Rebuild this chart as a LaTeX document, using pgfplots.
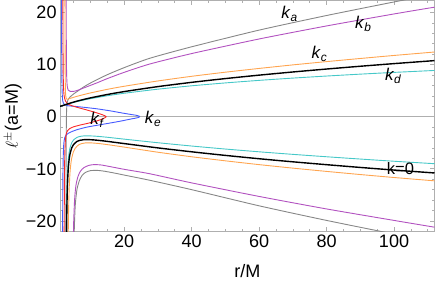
\documentclass[border=0pt]{standalone}
\usepackage{fontspec}
\setmainfont{Liberation Sans}
\usepackage{pgfplots}
\pgfplotsset{compat=1.18}
\definecolor{framec}{RGB}{175,175,175}
\definecolor{cgray}{RGB}{135,135,135}
\definecolor{cpurple}{RGB}{178,82,192}
\definecolor{corange}{RGB}{255,165,80}
\definecolor{ccyan}{RGB}{70,200,200}
\definecolor{cblue}{RGB}{70,90,255}
\definecolor{cred}{RGB}{250,40,40}
\newcommand{\lab}[2]{\textit{#1}\textsubscript{\textit{#2}}}
\begin{document}
\begin{tikzpicture}
\begin{axis}[
  name=ax,
  scale only axis, width=374bp, height=230.7bp,
  xmin=1, xmax=112, ymin=-22, ymax=22.3,
  axis line style={framec, line width=0.7bp},
  tick style={framec, line width=0.6bp},
  major tick length=4.5bp, minor tick length=2.6bp,
  /pgf/number format/assume math mode=true,
  xtick={20,40,60,80,100},
  xticklabels={20,40,60,80,100},
  ytick={-20,-10,0,10,20},
  yticklabels={−20,−10,0,10,20},
  minor xtick={5,10,15,25,30,35,45,50,55,65,70,75,85,90,95,105,110},
  minor ytick={-18,-16,-14,-12,-8,-6,-4,-2,2,4,6,8,12,14,16,18},
  extra y ticks={0}, extra y tick labels={},
  extra y tick style={grid=major, major grid style={framec, line width=0.7bp}, major tick length=0pt},
  tick label style={font=\fontsize{18bp}{20bp}\selectfont, text=black},
  xlabel={r/M},
  ylabel={$\ell^{\pm}$(a=M)},
  xlabel style={font=\fontsize{18bp}{20bp}\selectfont, at={(axis description cs:0.5,-0.199)}, anchor=base},
  ylabel style={font=\fontsize{18bp}{20bp}\selectfont, at={(axis description cs:-0.1257,0.5)}, anchor=center},
  every axis plot/.append style={line width=0.9bp, line join=round},
  clip=true,
]
% k_a (gray)
\addplot[cgray, smooth, tension=0.4] coordinates {(2.70,-40)(2.73,-22)(2.76,-12)(2.80,-6)(2.85,-2)(2.90,0.5)(3.00,2.0)(3.15,2.8)(3.40,3.3)(4,3.8)(5,4.35)(6,4.8)(8,5.7)(10,6.45)(12,7.1)(15,8.05)(20,9.4)(27.6,11.2)(40,13.4)(60,16.6)(80,19.4)(100,22.0)(112,23.5)};
\addplot[cgray, smooth, tension=0.4] coordinates {(4.95,-40)(5.05,-28)(5.2,-22)(5.5,-17)(6,-14)(6.7,-12.3)(7.5,-11.3)(8.5,-10.7)(10,-10.35)(12,-10.3)(14,-10.45)(17,-10.8)(20,-11.2)(27.6,-12.2)(40,-14.0)(60,-17.1)(80,-19.9)(100,-22.5)(112,-23.8)};
% k_b (purple)
\addplot[cpurple, smooth, tension=0.4] coordinates {(2.78,40)(2.82,20)(2.87,12)(2.95,8)(3.1,6)(3.4,5.1)(4,4.85)(5,4.85)(6,5.0)(8,5.5)(10,6.0)(12,6.5)(15,7.3)(20,8.5)(27.6,10.1)(40,12.1)(60,14.9)(80,17.4)(100,19.7)(112,21.0)};
\addplot[cpurple, smooth, tension=0.4] coordinates {(4.75,-40)(4.85,-28)(5.0,-21)(5.3,-16)(5.7,-13.2)(6.3,-11.5)(7,-10.5)(8,-9.8)(9.5,-9.35)(11,-9.2)(13,-9.25)(16,-9.6)(20,-10.1)(27.6,-10.95)(40,-12.7)(60,-15.3)(80,-17.7)(100,-19.9)(112,-21.2)};
% k_c (orange)
\addplot[corange, smooth, tension=0.4] coordinates {(2.42,40)(2.45,20)(2.5,10)(2.56,6)(2.65,4.2)(2.8,3.55)(3.0,3.35)(3.3,3.33)(3.5,3.40)(4,3.51)(6,3.90)(8,4.24)(10,4.55)(15,5.24)(20,5.83)(30,6.85)(40,7.74)(50,8.53)(60,9.25)(70,9.93)(80,10.56)(90,11.16)(100,11.74)(112,12.40)};
\addplot[corange, smooth, tension=0.4] coordinates {(3.25,-41)(3.35,-27.4)(3.45,-21)(3.55,-17.2)(3.7,-13.8)(3.95,-10.7)(4.2,-9.04)(4.45,-7.98)(4.95,-6.75)(5.45,-6.09)(6.45,-5.43)(7.45,-5.16)(8.45,-5.04)(10.45,-5.04)(12.45,-5.15)(15.45,-5.40)(20.45,-5.88)(30,-6.82)(40,-7.69)(50,-8.47)(60,-9.20)(70,-9.87)(80,-10.50)(90,-11.10)(100,-11.67)(112,-12.31)};
% k_d (cyan)
\addplot[ccyan, smooth, tension=0.4] coordinates {(1,2.0)(1.5,2.057)(2,2.155)(3,2.358)(4,2.549)(6,2.888)(8,3.183)(10,3.447)(15,4.012)(20,4.487)(30,5.273)(40,5.919)(50,6.472)(60,6.96)(70,7.397)(80,7.793)(90,8.156)(100,8.491)(112,8.863)};
\addplot[ccyan, smooth, tension=0.4] coordinates {(2.75,-40.7)(2.8,-30.0)(2.9,-20.1)(3.0,-15.36)(3.1,-12.6)(3.25,-10.1)(3.5,-7.86)(3.75,-6.62)(4,-5.85)(4.5,-4.95)(5,-4.46)(6,-3.98)(7,-3.78)(8,-3.69)(10,-3.69)(12,-3.77)(15,-3.95)(20,-4.31)(30,-5.0)(40,-5.63)(50,-6.21)(60,-6.74)(70,-7.23)(80,-7.69)(90,-8.13)(100,-8.55)(112,-9.02)};
% k_e (blue)
\addplot[cblue, smooth, tension=0.4] coordinates {(1.42,40)(1.45,20)(1.5,10)(1.6,5)(1.8,3)(2.2,2.4)(3.2,2.1)(5,2.0)(8,1.8)(12,1.5)(16,1.1)(19,0.75)(22,0.42)(23.25,0.3)(24.0,0.2)(24.45,0.1)(24.6,0)(24.45,-0.1)(24.0,-0.2)(23.25,-0.3)(22,-0.45)(19,-0.85)(16,-1.2)(12,-1.65)(9,-2.0)(6,-2.5)(4,-3.0)(3,-3.4)(2.4,-4.0)(2.1,-5.2)(1.95,-7.5)(1.85,-11)(1.78,-18)(1.72,-40)};
% k_f (red)
\addplot[cred, smooth, tension=0.4] coordinates {(1.82,40)(1.85,20)(1.9,10)(2.0,6)(2.2,4)(2.6,3.0)(3.2,2.5)(4.5,2.1)(6,1.8)(8,1.45)(9.4,1.2)(11,0.9)(12.5,0.6)(13.6,0.35)(14.3,0.17)(14.7,0)(14.3,-0.2)(13.5,-0.45)(12,-0.8)(9.4,-1.25)(7,-1.6)(5,-1.95)(3.8,-2.3)(3.2,-2.7)(2.8,-3.4)(2.55,-4.8)(2.4,-7.5)(2.3,-12)(2.22,-22)(2.17,-40)};
% k = 0 (black)
\addplot[black, line width=1.4bp, smooth, tension=0.4] coordinates {(1,2)(1.5,2.065)(2,2.172)(3,2.392)(4,2.6)(6,2.973)(8,3.302)(10,3.6)(15,4.25)(20,4.81)(30,5.766)(40,6.582)(50,7.305)(60,7.963)(70,8.57)(80,9.136)(90,9.669)(100,10.174)(112,10.75)};
\addplot[black, line width=1.4bp, smooth, tension=0.4] coordinates {(2.75,-48.7)(2.8,-36.0)(2.9,-24.06)(3.0,-18.39)(3.1,-15.09)(3.25,-12.10)(3.5,-9.41)(3.75,-7.93)(4,-7.0)(4.5,-5.92)(5,-5.34)(6,-4.76)(7,-4.52)(8,-4.42)(10,-4.42)(12,-4.52)(15,-4.74)(20,-5.16)(30,-5.99)(40,-6.74)(50,-7.43)(60,-8.07)(70,-8.66)(80,-9.21)(90,-9.74)(100,-10.24)(112,-10.80)};
% labels
\node[font=\fontsize{17bp}{20bp}\selectfont] at (axis cs:69,19.7) {\lab{k}{a}};
\node[font=\fontsize{17bp}{20bp}\selectfont] at (axis cs:90.9,17.8) {\lab{k}{b}};
\node[font=\fontsize{17bp}{20bp}\selectfont] at (axis cs:77.9,12.0) {\lab{k}{c}};
\node[font=\fontsize{17bp}{20bp}\selectfont] at (axis cs:99.8,7.8) {\lab{k}{d}};
\node[font=\fontsize{17bp}{20bp}\selectfont] at (axis cs:28.6,-0.4) {\lab{k}{e}};
\node[font=\fontsize{17bp}{20bp}\selectfont] at (axis cs:12.1,-0.6) {\lab{k}{f}};
\node[font=\fontsize{16.5bp}{19bp}\selectfont] at (axis cs:101.9,-9.9) {k=0};
\end{axis}
\pgfresetboundingbox
\path[use as bounding box] ([shift={(-60bp,-49.3bp)}]ax.south west) rectangle ([shift={(1.5bp,0.4bp)}]ax.north east);
\end{tikzpicture}
\end{document}
